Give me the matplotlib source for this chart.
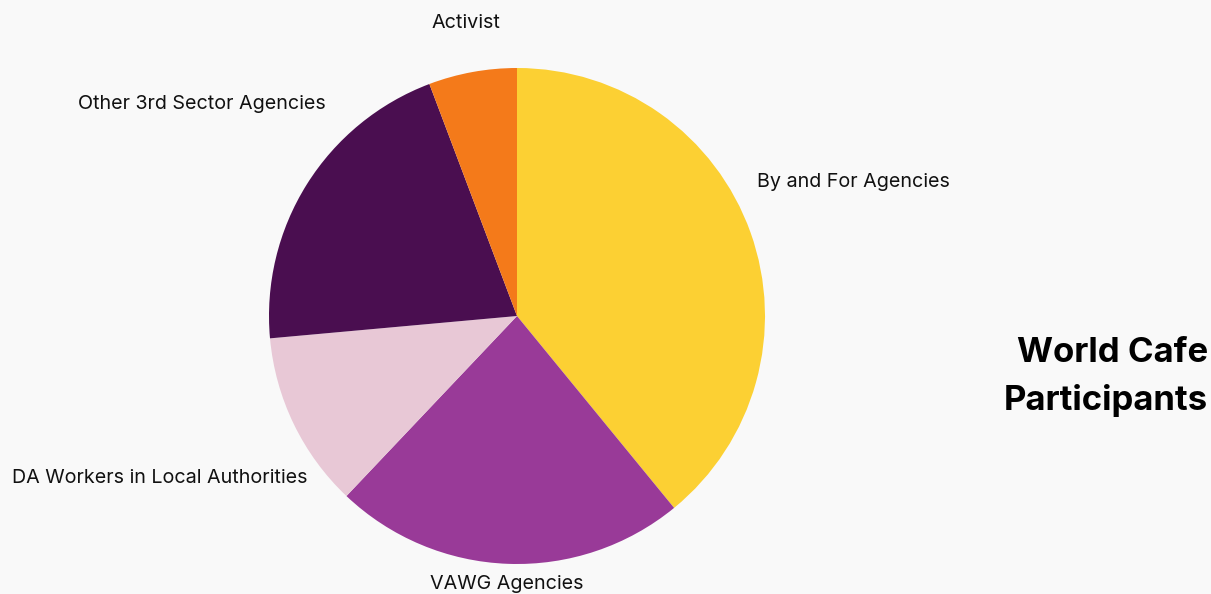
import matplotlib
matplotlib.use("Agg")
import matplotlib.pyplot as plt

# participant groups, clockwise from 12 o'clock
labels = ["By and For Agencies", "VAWG Agencies", "DA Workers in Local Authorities",
          "Other 3rd Sector Agencies", "Activist"]
counts = [34, 20, 10, 18, 5]
colors = ["#FCD033", "#993A98", "#E8C8D6", "#4A0E50", "#F47A1A"]

bg = "#F9F9F9"
W, H = 1211, 594
fig = plt.figure(figsize=(W / 100, H / 100), dpi=100, facecolor=bg)

# pie centre (517, 316) px, radius 248 px
cx, cy, r = 517, 316, 248
ax = fig.add_axes([(cx - r) / W, (H - cy - r) / H, 2 * r / W, 2 * r / H])
ax.set_facecolor(bg)
ax.pie(counts, colors=colors, startangle=90, counterclock=False,
       wedgeprops=dict(linewidth=0))
ax.set_xlim(-1, 1)
ax.set_ylim(-1, 1)
ax.set_aspect("equal")
ax.axis("off")

# label anchors in pie radius units
label_pos = [(0.968, 0.540, "left"), (-0.04, -1.081, "center"),
             (-0.843, -0.653, "right"), (-0.77, 0.855, "right"),
             (-0.206, 1.181, "center")]
for name, (x, y, ha) in zip(labels, label_pos):
    ax.text(x, y, name, ha=ha, va="center", fontsize=14.2, family="Inter",
            color="#111111", clip_on=False)

fig.text(1208 / W, 1 - 377 / H, "World Cafe\nParticipants", ha="right", va="center",
         fontsize=25, fontweight="bold", family="Inter", color="#000000",
         linespacing=1.55)

fig.savefig("out.png", dpi=100, facecolor=bg)
